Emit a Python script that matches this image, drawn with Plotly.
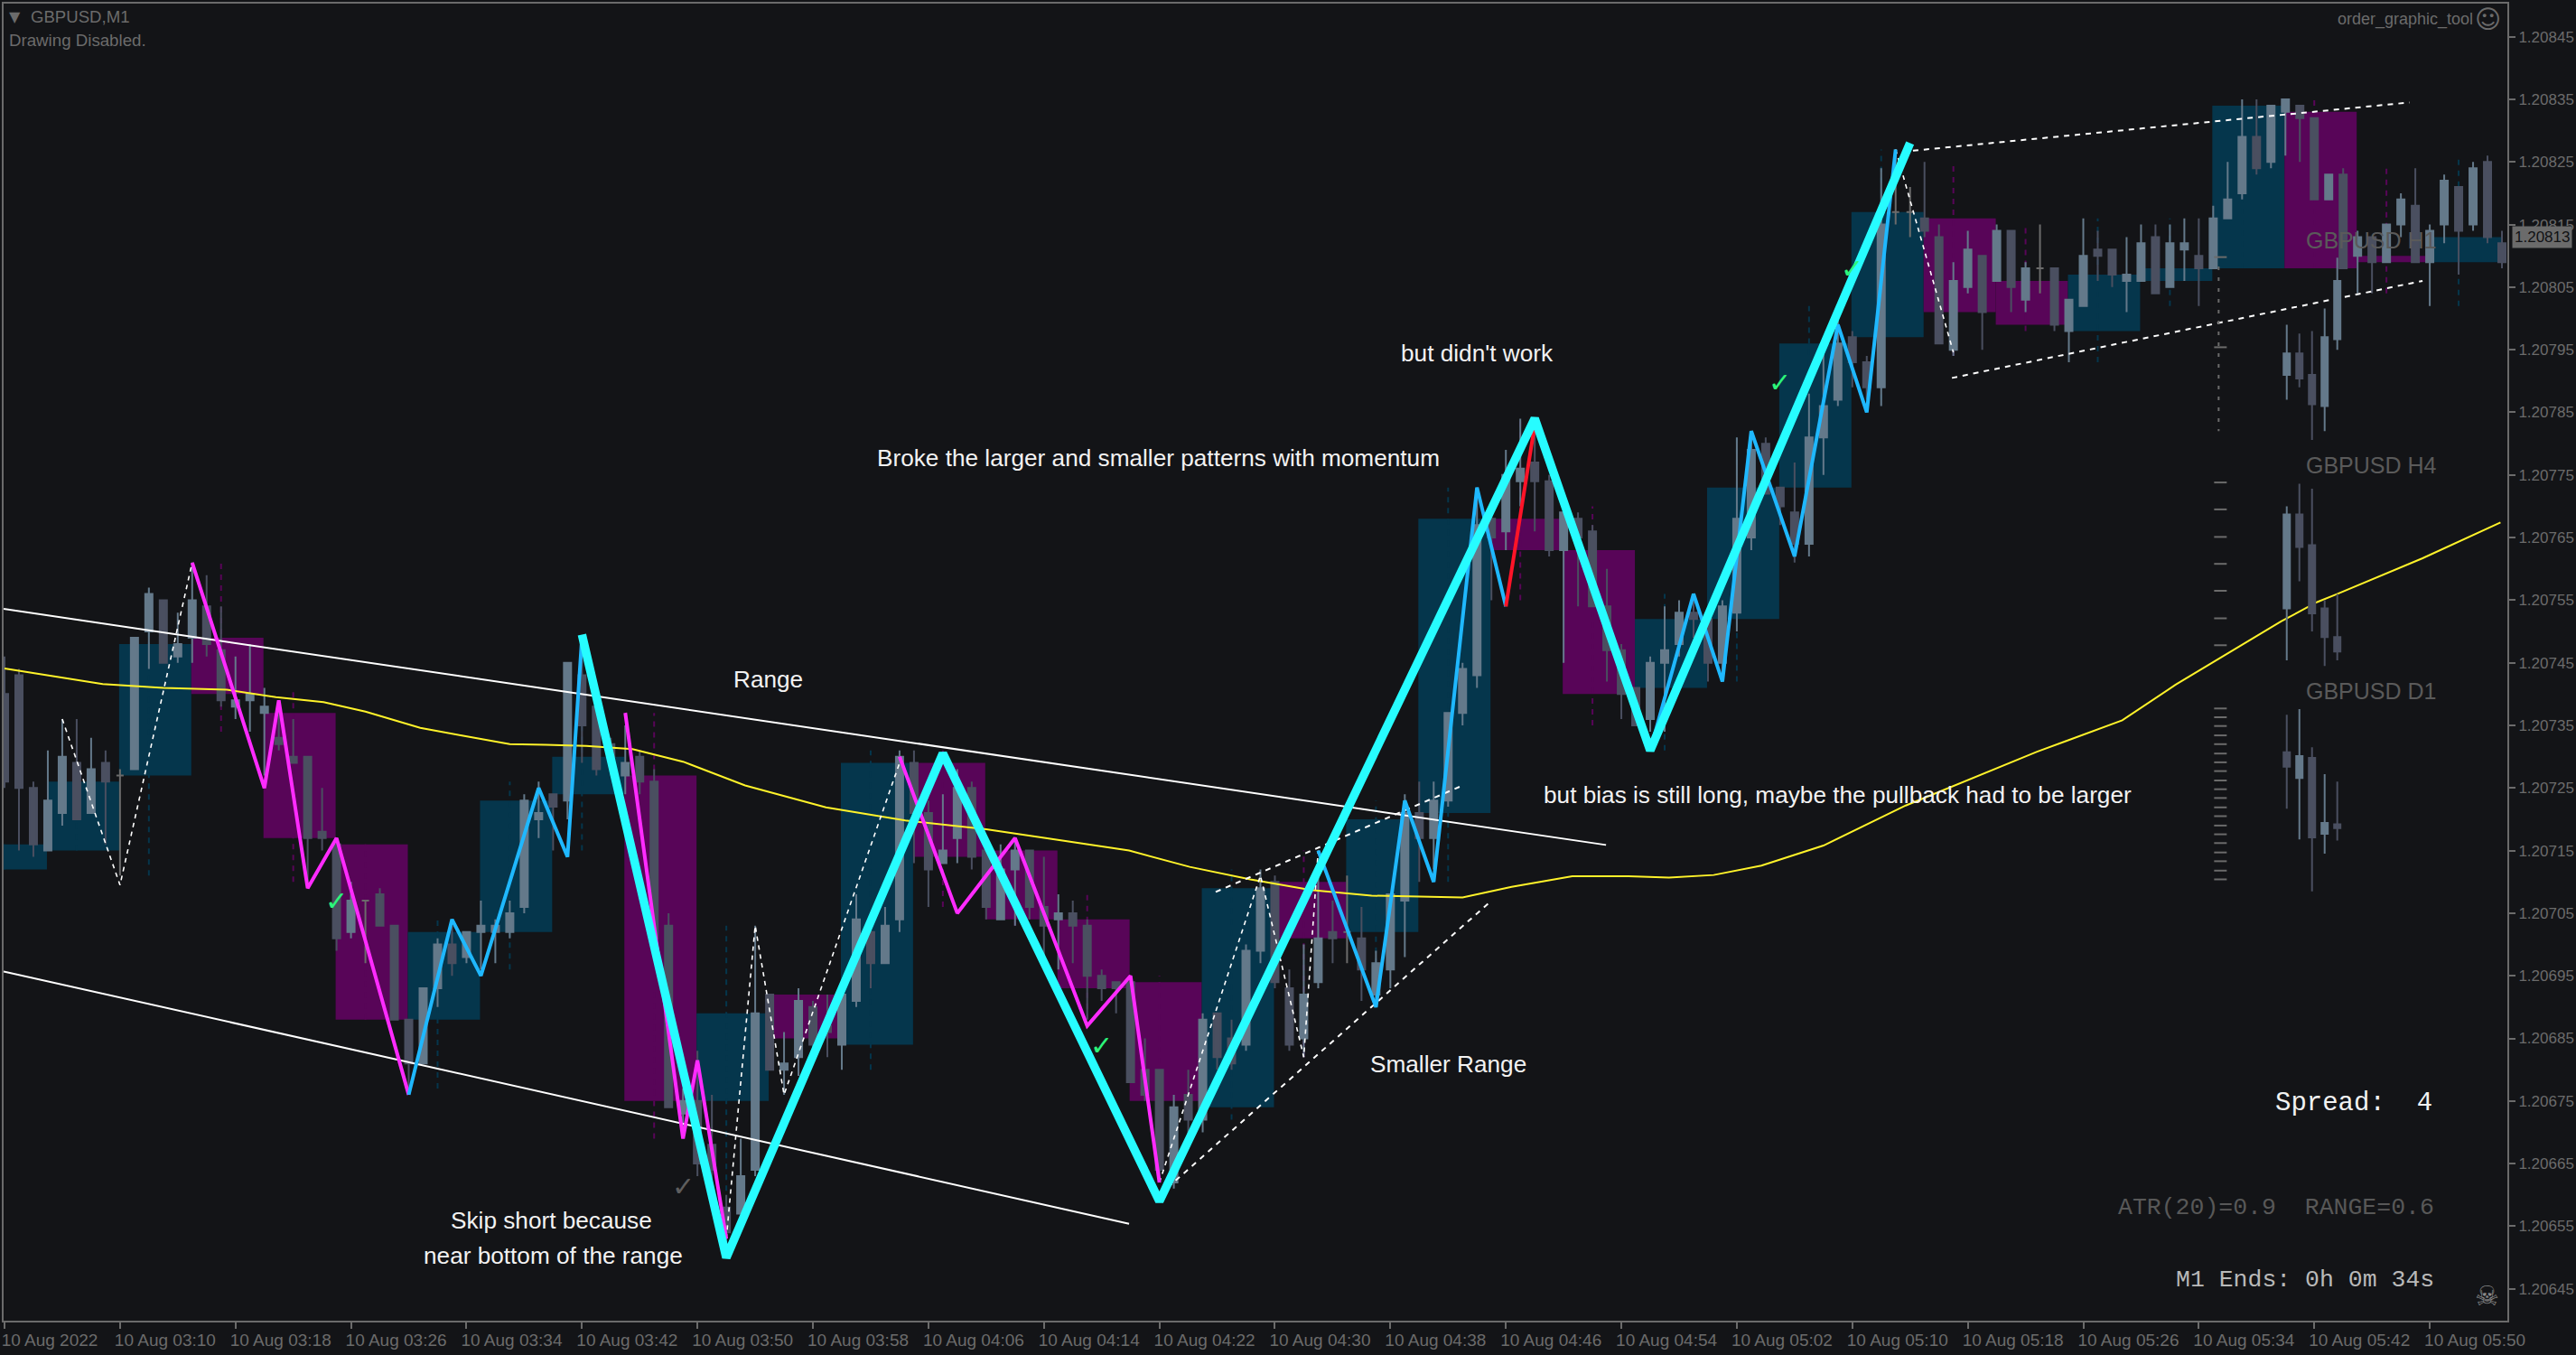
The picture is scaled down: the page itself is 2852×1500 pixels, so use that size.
import pandas as pd
import plotly.graph_objects as go

# Prices are kept as points above 1.20000 (771 = 1.20771). Minute index 0 = 10 Aug 2022 03:02.
bar_open = [
740,743,725,715,721,729,721,729,727,728,
750,755,746,749,754,747,738,739,737,733,
730,730,718,716,702,707,708,703,688,681,
693,700,698,702,702,702,706,720,724,723,
743,738,732,727,730,726,703,673,675,668,
658,657,664,692,680,682,690,687,684,691,
702,697,704,729,721,713,717,725,715,704,
712,715,706,704,705,703,695,694,694,680,
680,662,676,672,689,685,684,699,710,693,
685,694,702,702,701,692,696,707,721,717,
723,737,743,768,766,774,777,774,763,768,
766,754,747,741,736,745,748,753,752,745,
753,765,780,773,769,764,781,787,797,793,
789,817,817,816,813,795,805,810,806,814,
803,808,808,798,802,811,811,806,806,813,
805,811,810,808,816,820,829,825,833,834,
832,819,823,810,813,809,815,818,809,815,
821,815,825,812]
bar_close = [
726,725,716,723,730,720,728,726,727,749,
756,745,748,755,748,739,739,740,738,732,
729,717,717,701,707,707,703,688,681,693,
700,697,702,703,703,705,723,721,722,745,
735,728,730,729,726,701,674,675,665,664,
654,663,689,680,681,691,684,686,692,704,
697,703,730,721,712,715,725,714,706,712,
715,706,703,705,703,695,693,693,678,676,
664,674,672,688,682,681,699,709,694,684,
692,701,701,702,696,697,708,721,717,723,
737,744,767,765,775,776,774,763,769,765,
754,747,740,735,745,747,753,752,745,754,
768,779,772,770,764,781,786,796,793,789,
815,817,817,814,796,806,811,801,814,805,
808,808,799,803,810,810,807,807,812,804,
812,812,808,816,819,829,824,834,835,832,
819,823,808,813,809,815,819,809,814,822,
814,824,813,809]
bar_high = [
746,744,726,731,736,736,733,731,728,749,
757,755,753,761,759,754,746,748,741,739,
736,730,725,717,710,707,709,703,688,693,
701,703,702,707,704,707,724,726,724,745,
746,740,733,735,731,728,705,677,683,676,
660,669,703,692,686,693,691,692,693,708,
703,706,731,731,723,724,728,726,717,716,
717,715,714,708,707,704,696,694,695,685,
680,676,680,689,689,688,700,712,711,696,
700,711,707,711,706,699,708,724,726,726,
737,745,773,770,779,784,782,775,770,769,
767,760,748,741,746,754,755,756,753,755,
781,782,781,773,777,788,796,800,798,794,
824,827,821,825,815,809,814,810,815,814,
809,815,808,803,816,814,811,813,815,815,
815,816,816,818,825,835,835,834,835,834,
832,823,824,814,813,815,820,824,815,823,
821,825,826,814]
bar_low = [
725,715,714,715,719,720,721,716,711,728,
744,745,745,745,746,738,736,734,727,731,
729,710,715,699,701,697,703,688,676,681,
690,695,697,696,697,701,705,717,715,720,
729,727,727,724,724,700,674,670,663,661,
652,657,663,680,676,679,682,682,680,690,
693,697,702,713,706,713,713,712,704,704,
703,704,698,696,697,688,691,689,678,675,
662,661,668,670,680,680,683,697,693,683,
682,693,697,697,691,690,693,698,710,712,
722,735,741,755,763,770,766,762,745,754,
754,742,736,735,734,734,746,749,742,742,
750,763,772,767,761,762,775,786,789,787,
786,815,813,813,796,794,804,795,806,801,
801,804,798,793,802,806,805,801,806,804,
805,806,802,808,816,819,823,824,826,825,
819,819,808,804,804,809,813,809,802,812,
807,814,812,808]

# Five-minute candles drawn behind the one-minute bars
htf_start = [-2,3,8,13,18,23,28,33,38,43,48,53,58,63,68,73,78,83,88,93,98,103,108,113,118,123,128,133,138,143,148,153,158,163,168]
htf_open = [712,715,727,749,737,716,688,702,724,727,675,692,684,729,715,704,694,674,710,702,721,768,763,741,752,773,797,816,806,798,806,808,833,810,809]
htf_close = [716,726,748,740,717,688,702,723,730,675,689,685,729,714,704,693,675,709,701,720,768,763,740,752,773,796,817,801,799,807,808,834,808,809,813]
htf_high = [716,726,757,761,741,716,704,726,746,737,703,692,731,731,717,708,695,712,715,723,773,784,770,756,781,802,827,825,815,816,816,834,835,824,826]
htf_low = [712,715,711,734,710,688,677,696,715,669,652,685,680,706,703,688,662,672,682,690,710,755,735,731,742,770,787,794,798,793,802,808,808,804,802]

# Moving average
ma_minute = [0,6.8,11,15.4,18.8,22.1,25,28.8,31.6,35,37.5,40.3,43.5,47,51.3,56.9,62.4,68,73.6,77.9,82.1,86.3,90.5,94.7,101,104.4,108.6,112.5,115.3,118.4,121.7,126,131.7,140.8,146.7,150.4,157.7,160.2,161.5,167.5,172.9]
ma_value = [744.1,741.6,741,740.7,739.5,738.7,737.2,734.6,733.4,732,731.9,731.7,731.2,729.2,725.4,721.9,719.8,718.4,716.5,715,712.4,710.4,708.7,707.8,707.5,709.2,710.9,710.9,710.7,711.1,712.6,715.8,722.2,730.8,735.8,741.5,751.6,754.7,755.9,761.7,767.4]

# Large swing
swing_minute = [40,50,65,80,106,114,132]
swing_value = [749.5,650,730.5,659,784,731,828]

# Smaller swings
down1_minute = [13,18,19,21,23,28]
down1_value = [761,725,739,709,717,676]
down2_minute = [43,47,48,50]
down2_value = [737,669,681.5,653]
down3_minute = [62,66,70,75,78,80]
down3_value = [730,705,717,687,695,662]
up1_minute = [28,31,33,37,39,40]
up1_value = [676,704,695,725,714,749]
up2_minute = [91,95,97,99,102,104]
up2_value = [715,690,723,710,773,754]
up3_minute = [114,117,119,121,124,127,129,131]
up3_value = [731,756,742,782,762,799,785,827]
red_minute = [104,106]
red_value = [754,783]

# Dashed minor swings
minor_segments = [
    ([4,8,13], [736,709.5,761]),
    ([50,52,54,62], [653,703,676,729]),
    ([80,87,90,91], [662,711,682,715]),
    ([131,135], [827,794.6]),
]

# Trend lines
range_upper = ([-0.06,110.94], [753.6,715.9])
range_lower = ([-0.06,77.9], [695.7,655.4])
small_upper = ([83.9,100.8], [708.4,725.2])
small_lower = ([80,103], [660,707])
channel_upper = ([132.2,166.6], [826.8,834.5])
channel_lower = ([134.9,167.5], [790.5,806])

# Multi-timeframe mini panels (index 0-4), on the same price scale
h1_open = [791,794.4,791,786,796.7]
h1_close = [794.4,790.4,786.3,797,806]
h1_high = [799,797.6,798,801.6,809.7]
h1_low = [787,789,780.6,782,795]
h4_open = [753.7,768.7,763.8,753.7,749.1]
h4_close = [768.7,763.5,752.9,749.1,746.8]
h4_high = [770,773.6,772.8,755,756]
h4_low = [745.4,758,750,744.5,745.4]
d1_open = [730.7,726.6,729.8,717.7,719.2]
d1_close = [728.4,730.1,717.1,719.4,718.6]
d1_high = [736.7,737.6,731.5,727.2,726]
d1_low = [721.7,716.8,708.5,714.5,716.6]
scale_ticks = [809.8,795.4,773.8,769.5,765.1,760.8,756.5,752.1,747.8,
               737.7,736.3,734.9,733.4,732,730.5,729.1,727.7,726.2,724.8,723.4,
               721.9,720.5,719,717.6,716.2,714.7,713.3,711.8,710.4]
scale_stem = [808.3,782]

# Axes
x_tick_minutes = list(range(0,169,8))
x_tick_labels = ["10 Aug 2022","10 Aug 03:10","10 Aug 03:18","10 Aug 03:26","10 Aug 03:34","10 Aug 03:42",
                 "10 Aug 03:50","10 Aug 03:58","10 Aug 04:06","10 Aug 04:14","10 Aug 04:22","10 Aug 04:30",
                 "10 Aug 04:38","10 Aug 04:46","10 Aug 04:54","10 Aug 05:02","10 Aug 05:10","10 Aug 05:18",
                 "10 Aug 05:26","10 Aug 05:34","10 Aug 05:42","10 Aug 05:50"]
y_tick_points = list(range(845,644,-10))
current_price = 813

# Chart comments
note_text = ["Range","but didn't work","Broke the larger and smaller patterns with momentum",
             "but bias is still long, maybe the pullback had to be larger","Smaller Range",
             "Skip short because","near bottom of the range"]
note_minute = [52.9,102,79.9,127,100,37.9,38]
note_value = [742,794.2,777.4,723.6,680.6,655.6,650]
check_minute = [23,76,123,128,47]
check_value = [707,683.9,789.7,808,661.4]
check_color = ["#2cf57a","#2cf57a","#2cf57a","#2cf57a","#5e5e5e"]

BG = "#131417"; AXIS = "#6b6b6b"; UP = "#64798a"; DOWN = "#4a4f60"; DOJI = "#6b6b6b"
TEAL = "#05364c"; PURPLE = "#580558"
W, H, ML, MR, MT, MB = 2852, 1500, 2, 75, 2, 38

base = pd.Timestamp("2022-08-10 03:02:00")
def tm(m):
    return [base + pd.Timedelta(minutes=float(v)) for v in m]
def pr(v):
    return [1.2 + float(p) / 1e5 for p in v]

fig = go.Figure()

# higher-timeframe boxes (bottom layer, main x axis)
fig.add_trace(go.Bar(
    x=tm(htf_start),
    y=[abs(c - o) / 1e5 for o, c in zip(htf_open, htf_close)],
    base=pr([min(o, c) for o, c in zip(htf_open, htf_close)]),
    width=300000, offset=-3750,
    marker=dict(color=[TEAL if c >= o else PURPLE for o, c in zip(htf_open, htf_close)], line_width=0),
    hoverinfo="skip", showlegend=False))

# dashed wicks of the five-minute candles (bottom layer)
for up_flag, col in ((True, TEAL), (False, PURPLE)):
    xs, ys = [], []
    for s, o, c, h, l in zip(htf_start, htf_open, htf_close, htf_high, htf_low):
        if (c >= o) == up_flag:
            xs += [base + pd.Timedelta(minutes=s + 2)] * 2 + [None]
            ys += [1.2 + l / 1e5, 1.2 + h / 1e5, None]
    fig.add_trace(go.Scatter(x=xs, y=ys, mode="lines", hoverinfo="skip", showlegend=False,
                             line=dict(color=col, width=2, dash="6px,6px")))

# one-minute candles (overlay axis x2, above the boxes)
idx = range(len(bar_open))
reg = [i for i in idx if bar_open[i] != bar_close[i]]
doj = [i for i in idx if bar_open[i] == bar_close[i]]
def candle(ids, up, down):
    return go.Candlestick(
        x=tm(ids), open=pr([bar_open[i] for i in ids]), high=pr([bar_high[i] for i in ids]),
        low=pr([bar_low[i] for i in ids]), close=pr([bar_close[i] for i in ids]), xaxis="x2",
        increasing=dict(line=dict(color=up, width=2), fillcolor=up),
        decreasing=dict(line=dict(color=down, width=2), fillcolor=down),
        hoverinfo="skip", showlegend=False)
fig.add_trace(candle(reg, UP, DOWN))
fig.add_trace(candle(doj, DOJI, DOJI))

def line(x, y, color, width, dash="solid"):
    fig.add_trace(go.Scatter(x=tm(x), y=pr(y), xaxis="x2", mode="lines", hoverinfo="skip", showlegend=False,
                             line=dict(color=color, width=width, dash=dash)))

line(ma_minute, ma_value, "#fff32a", 2)
for seg in (range_upper, range_lower):
    line(seg[0], seg[1], "#ffffff", 2)
for seg in (small_upper, small_lower, channel_upper, channel_lower):
    line(seg[0], seg[1], "#ffffff", 2, "6px,6px")
for xs, ys in minor_segments:
    line(xs, ys, "#ffffff", 1.6, "5px,5px")
for xs, ys in ((down1_minute, down1_value), (down2_minute, down2_value), (down3_minute, down3_value)):
    line(xs, ys, "#ff2bff", 4)
for xs, ys in ((up1_minute, up1_value), (up2_minute, up2_value), (up3_minute, up3_value)):
    line(xs, ys, "#1fb8ff", 4)
line(red_minute, red_value, "#ff1428", 4)
line(swing_minute, swing_value, "#27fcff", 9.5)

# mini panels on their own overlaying x axis
for o, h, l, c in ((h1_open, h1_high, h1_low, h1_close), (h4_open, h4_high, h4_low, h4_close), (d1_open, d1_high, d1_low, d1_close)):
    fig.add_trace(go.Candlestick(
        x=list(range(5)), open=pr(o), high=pr(h), low=pr(l), close=pr(c), xaxis="x3",
        increasing=dict(line=dict(color=UP, width=2), fillcolor=UP),
        decreasing=dict(line=dict(color=DOWN, width=2), fillcolor=DOWN),
        hoverinfo="skip", showlegend=False))
MINI_C, MINI_S = 2532.5, 14.0
stem_idx = (2457 - MINI_C) / MINI_S
fig.add_trace(go.Scatter(x=[stem_idx, stem_idx], y=pr(scale_stem), xaxis="x3", mode="lines", hoverinfo="skip",
                         showlegend=False, line=dict(color=AXIS, width=2, dash="4px,8px")))
fig.add_trace(go.Scatter(x=[(2459 - MINI_C) / MINI_S] * len(scale_ticks), y=pr(scale_ticks), xaxis="x3", mode="markers",
                         hoverinfo="skip", showlegend=False,
                         marker=dict(symbol="line-ew", size=10, color=AXIS, line=dict(color=AXIS, width=2))))

annotations = []
for t, m, v in zip(note_text, note_minute, note_value):
    annotations.append(dict(x=tm([m])[0], y=pr([v])[0], xref="x", yref="y", text=t, showarrow=False,
                            font=dict(family="Liberation Sans", size=26.2, color="#f2f2f2"),
                            xanchor="center", yanchor="middle", yshift=2))
for m, v, col in zip(check_minute, check_value, check_color):
    annotations.append(dict(x=tm([m])[0], y=pr([v])[0], xref="x", yref="y", text="✓", showarrow=False,
                            font=dict(family="DejaVu Sans", size=30, color=col),
                            xanchor="center", yanchor="middle"))

def screen(px, py, text, family="Liberation Sans", size=18, color=AXIS, anchor="left", **kw):
    annotations.append(dict(x=(px - ML) / (W - ML - MR), y=1 - (py - MT) / (H - MT - MB), xref="paper", yref="paper",
                            text=text, showarrow=False, font=dict(family=family, size=size, color=color),
                            xanchor=anchor, yanchor="middle", **kw))

screen(15, 17, "▼", family="DejaVu Sans", size=16, anchor="center")
screen(30, 17, "GBPUSD,M1", size=18.6)
screen(6, 43, "Drawing Disabled.", size=18.7)
screen(2741, 20, "order_graphic_tool", size=18, anchor="right")
screen(2755, 20, "☺", family="DejaVu Sans", size=28, anchor="center")
screen(2754, 1434, "☠", family="DejaVu Sans", size=30, color="#8a8a8a", anchor="center")
for py, lab in ((265, "GBPUSD H1"), (515, "GBPUSD H4"), (765, "GBPUSD D1")):
    screen(2552, py - 1, lab, size=25, color="#5a5a5a")
screen(2696, 1221, "Spread:  4", family="Liberation Mono", size=29, color="#f2f2f2", anchor="right")
screen(2698, 1337, "ATR(20)=0.9  RANGE=0.6", family="Liberation Mono", size=26.5, color="#585858", anchor="right")
screen(2698, 1417, "M1 Ends: 0h 0m 34s", family="Liberation Mono", size=26.5, color="#b9b9b9", anchor="right")
annotations.append(dict(x=1, y=pr([current_price])[0], xref="paper", yref="y", text="1.20813", showarrow=False,
                        xanchor="left", yanchor="middle", xshift=5, bgcolor=AXIS, borderpad=2,
                        font=dict(family="Liberation Sans", size=17, color="#111214")))

x_left = (ML - 3) / 16
x_right = (W - MR - 3) / 16
x_range = [tm([x_left])[0], tm([x_right])[0]]
fig.update_layout(
    width=W, height=H, margin=dict(l=ML, r=MR, t=MT, b=MB, pad=0),
    paper_bgcolor=BG, plot_bgcolor=BG, showlegend=False, barmode="overlay",
    boxgap=0.5, boxgroupgap=0, boxmode="overlay",
    annotations=annotations,
    xaxis=dict(type="date", range=x_range, tickmode="array",
               tickvals=tm(x_tick_minutes), ticktext=x_tick_labels, tickangle=0, ticklabelshift=50, ticklabelstandoff=-4,
               showgrid=False, zeroline=False, showline=True, mirror=True, linecolor=AXIS, linewidth=2,
               ticks="outside", ticklen=7, tickwidth=2, tickcolor=AXIS,
               tickfont=dict(family="Liberation Sans", size=19, color=AXIS), rangeslider=dict(visible=False)),
    xaxis2=dict(type="date", overlaying="x", anchor="y", visible=False, range=x_range,
                rangeslider=dict(visible=False), fixedrange=True),
    xaxis3=dict(overlaying="x", anchor="y", visible=False, range=[(ML - MINI_C) / MINI_S, (W - MR - MINI_C) / MINI_S],
                rangeslider=dict(visible=False), fixedrange=True),
    yaxis=dict(side="right", range=pr([639.91, 850.29]), tickmode="array", tickvals=pr(y_tick_points),
               ticktext=[f"{1.2 + v / 1e5:.5f}" for v in y_tick_points],
               showgrid=False, zeroline=False, showline=True, mirror=True, linecolor=AXIS, linewidth=2,
               ticks="outside", ticklen=7, tickwidth=2, tickcolor=AXIS,
               tickfont=dict(family="Liberation Sans", size=17, color=AXIS)),
)

fig.write_html("out.html", config=dict(displayModeBar=False),
               post_script="document.body.style.margin='0';document.body.style.background='#131417';")
